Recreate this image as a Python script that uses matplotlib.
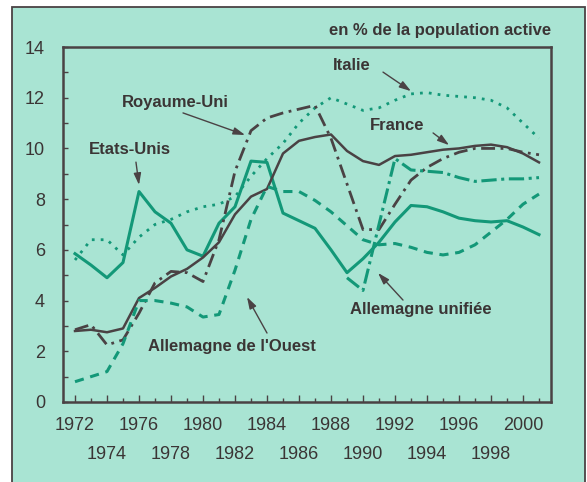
import matplotlib
matplotlib.use("Agg")
import matplotlib.pyplot as plt
from matplotlib.patches import Rectangle
from matplotlib.ticker import MultipleLocator, FixedLocator

plt.rcParams['font.family'] = ['Liberation Sans', 'DejaVu Sans']

years = list(range(1972, 2002))

etats_unis = [5.85, 5.4, 4.9, 5.5, 8.3, 7.5, 7.05, 6.0, 5.75, 7.05,
              7.7, 9.5, 9.45, 7.45, 7.15, 6.85, 6.0, 5.1, 5.65, 6.3,
              7.1, 7.75, 7.7, 7.5, 7.25, 7.15, 7.1, 7.15, 6.9, 6.6]
france = [2.8, 2.85, 2.75, 2.9, 4.1, 4.5, 4.95, 5.25, 5.7, 6.3,
          7.4, 8.1, 8.4, 9.8, 10.3, 10.45, 10.55, 9.9, 9.5, 9.35,
          9.7, 9.75, 9.85, 9.95, 10.0, 10.1, 10.15, 10.05, 9.8, 9.45]
italie = [5.6, 6.4, 6.4, 5.8, 6.5, 7.0, 7.2, 7.5, 7.7, 7.8,
          8.1, 8.9, 9.6, 10.2, 11.0, 11.6, 12.0, 11.75, 11.5, 11.6,
          11.9, 12.15, 12.2, 12.1, 12.05, 12.0, 11.9, 11.6, 11.0, 10.4]
royaume_uni = [2.85, 3.05, 2.25, 2.45, 3.5, 4.7, 5.15, 5.1, 4.75, 6.4,
               9.1, 10.7, 11.2, 11.4, 11.55, 11.7, 10.4, 8.6, 6.8, 6.8,
               7.8, 8.75, 9.25, 9.6, 9.85, 10.0, 10.0, 10.0, 9.85, 9.75]
allemagne_ouest = [0.8, 1.0, 1.2, 2.3, 4.0, 4.0, 3.9, 3.75, 3.35, 3.45,
                   5.2, 7.2, 8.5, 8.3, 8.3, 7.95, 7.5, 6.95, 6.4, 6.2,
                   6.25, 6.1, 5.9, 5.8, 5.9, 6.2, 6.7, 7.2, 7.8, 8.2]
years_unifiee = list(range(1989, 2002))
allemagne_unifiee = [4.9, 4.4, 7.0, 9.6, 9.15, 9.1, 9.05, 8.85, 8.7, 8.75, 8.8, 8.8, 8.85]

x_ticks_row1 = list(range(1972, 2001, 4))
x_ticks_row2 = list(range(1974, 1999, 4))
x_minor_ticks = list(range(1973, 2002, 2))
y_ticks = list(range(0, 15, 2))

BG = "#a9e4d3"
TEAL = "#139878"
DARK = "#4a4244"
TXT = "#3b3535"

W, H = 587, 482
fig = plt.figure(figsize=(W / 100, H / 100), dpi=100, facecolor="white")
fig.patches.append(Rectangle((12 / W, -0.05), (585 - 12) / W, 1 - 7 / H + 0.05,
                             transform=fig.transFigure, facecolor=BG,
                             edgecolor=DARK, lw=1.3, zorder=-10))

ax = fig.add_axes([63 / W, 1 - 402 / H, (551 - 63) / W, (402 - 47) / H])
ax.set_facecolor(BG)

ax.plot(years, etats_unis, color=TEAL, lw=2.2, solid_joinstyle='round')
ax.plot(years, france, color=DARK, lw=1.8, solid_joinstyle='round')
ax.plot(years, italie, color=TEAL, lw=2.0, linestyle=(0, (1, 2.2)))
ax.plot(years, royaume_uni, color=DARK, lw=2.0, linestyle=(0, (5, 2, 1, 2)))
ax.plot(years, allemagne_ouest, color=TEAL, lw=2.2, linestyle=(0, (3, 2.2)))
ax.plot(years_unifiee, allemagne_unifiee, color=TEAL, lw=2.2, linestyle=(0, (5, 1.5, 1, 1.5)))

ax.set_xlim(1971.25, 2001.75)
ax.set_ylim(0, 14)

ax.xaxis.set_major_locator(FixedLocator(x_ticks_row1))
ax.set_xticklabels([str(y) for y in x_ticks_row1])
ax.xaxis.set_minor_locator(FixedLocator(x_minor_ticks))
ax.set_yticks(y_ticks)
ax.yaxis.set_minor_locator(MultipleLocator(1))

ax.tick_params(axis='x', which='major', direction='in', length=5, width=1, color=DARK,
               labelsize=13, labelcolor=TXT, pad=11, top=False)
ax.tick_params(axis='x', which='minor', direction='in', length=3, width=1, color=DARK, top=False)
ax.tick_params(axis='y', which='both', direction='in', length=3.5, width=1, color=DARK,
               labelsize=13, labelcolor=TXT, pad=13, right=False)

sec = ax.secondary_xaxis('bottom')
sec.set_xticks(x_ticks_row2)
sec.set_xticklabels([str(y) for y in x_ticks_row2])
sec.tick_params(axis='x', direction='in', length=5, width=1, color=DARK,
                labelsize=13, labelcolor=TXT, pad=32)
sec.spines['bottom'].set_visible(False)

for s in ax.spines.values():
    s.set_color(DARK)
    s.set_linewidth(1.8)

fig.text(551 / W, 1 - 31 / H, "en % de la population active", ha='right', va='center',
         fontsize=12, fontweight='bold', color=TXT)

arrow = dict(arrowstyle='-|>,head_length=0.7,head_width=0.22', color=DARK, lw=1.0,
             shrinkA=0, shrinkB=0)
notes = [
    ("Italie", (1989.31, 13.29), (1991.25, 13.01), (1993.0, 12.26)),
    ("Royaume-Uni", (1978.25, 11.83), (1978.75, 11.40), (1982.63, 10.53)),
    ("France", (1992.13, 10.92), (1994.38, 10.61), (1995.38, 10.13)),
    ("Etats-Unis", (1975.44, 9.94), (1975.81, 9.46), (1976.0, 8.56)),
    ("Allemagne de l'Ouest", (1981.81, 2.17), (1984.0, 2.72), (1982.75, 4.14)),
    ("Allemagne unifiée", (1993.63, 3.63), (1992.5, 4.02), (1990.94, 5.09)),
]
for label, tpos, tail, tip in notes:
    ax.text(tpos[0], tpos[1], label, ha='center', va='center', fontsize=12,
            fontweight='bold', color=TXT)
    ax.annotate("", xy=tip, xytext=tail, arrowprops=arrow)

fig.savefig("out.png", dpi=100, facecolor="white")
